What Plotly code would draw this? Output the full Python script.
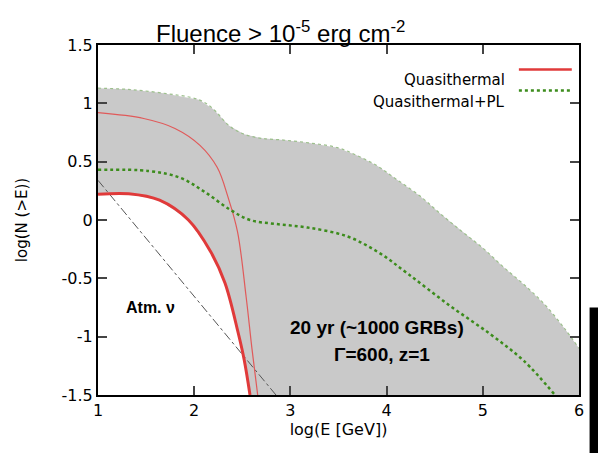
import plotly.graph_objects as go

# Upper edge of the shaded band (Quasithermal+PL, optimistic)
top_x = [1.0, 1.3, 1.65, 2.05, 2.2, 2.36, 2.52, 2.7, 2.93, 3.2, 3.49, 3.7, 3.91, 4.1, 4.34, 4.55, 4.77, 5.0, 5.21, 5.45, 5.65, 5.85, 6.0]
top_y = [1.13, 1.12, 1.09, 1.03, 0.95, 0.81, 0.735, 0.70, 0.685, 0.66, 0.62, 0.55, 0.46, 0.35, 0.21, 0.06, -0.09, -0.24, -0.40, -0.57, -0.73, -0.93, -1.10]

# Quasithermal+PL (green dotted)
pl_x = [1.0, 1.53, 1.86, 2.11, 2.37, 2.58, 2.86, 3.18, 3.59, 3.92, 4.22, 4.65, 5.08, 5.43, 5.75]
pl_y = [0.43, 0.42, 0.36, 0.24, 0.09, 0.0, -0.035, -0.065, -0.14, -0.28, -0.46, -0.73, -0.98, -1.21, -1.50]

# Quasithermal (thick red, lower)
qt_x = [1.0, 1.32, 1.64, 1.94, 2.17, 2.32, 2.455, 2.52, 2.58]
qt_y = [0.22, 0.225, 0.17, 0.0, -0.27, -0.54, -0.96, -1.2, -1.50]

# Quasithermal (thin red, upper)
qt2_x = [1.0, 1.475, 1.8, 2.06, 2.24, 2.35, 2.45, 2.54, 2.6, 2.66]
qt2_y = [0.92, 0.87, 0.785, 0.64, 0.45, 0.2, -0.1, -0.66, -1.1, -1.50]

# Atmospheric neutrinos (dash-dot)
atm_x = [1.0, 2.85]
atm_y = [0.34, -1.50]

x_ticks = [1, 2, 3, 4, 5, 6]
y_ticks = [-1.5, -1, -0.5, 0, 0.5, 1, 1.5]
y_ticklabels = ["-1.5", "-1", "-0.5", "0", "0.5", "1", "1.5"]

FONT = "DejaVu Sans"

fig = go.Figure()

# shaded band: top edge, down to bottom, back along lower red curve
band_x = top_x + [top_x[-1], qt_x[-1]] + qt_x[::-1]
band_y = top_y + [-1.5, -1.5] + qt_y[::-1]
fig.add_trace(go.Scatter(x=band_x, y=band_y, fill="toself", fillcolor="#c9c9c9",
                         line=dict(width=0), mode="lines", hoverinfo="skip", showlegend=False))

fig.add_trace(go.Scatter(x=top_x, y=top_y, mode="lines", line=dict(color="#9cbf8c", width=1.2, dash="dot", shape="spline"), showlegend=False))
fig.add_trace(go.Scatter(x=atm_x, y=atm_y, mode="lines", line=dict(color="#555555", width=1, dash="dashdot"), showlegend=False))
fig.add_trace(go.Scatter(x=qt2_x, y=qt2_y, mode="lines", line=dict(color="#e05a5a", width=1.2, shape="spline"), showlegend=False))
fig.add_trace(go.Scatter(x=qt_x, y=qt_y, mode="lines", line=dict(color="#e03a3a", width=3, shape="spline"), showlegend=False))
fig.add_trace(go.Scatter(x=pl_x, y=pl_y, mode="lines", line=dict(color="#3c8c1c", width=2.5, dash="dot", shape="spline"), showlegend=False))

annotations = [
    dict(x=1.55, y=-0.75, xref="x", yref="y", text="<b>Atm. ν</b>", showarrow=False,
         font=dict(family="Liberation Sans", size=16, color="black")),
    dict(x=3.9, y=-0.92, xref="x", yref="y", text="<b>20 yr (~1000 GRBs)</b>", showarrow=False,
         font=dict(family="Liberation Sans", size=19, color="black")),
    dict(x=3.95, y=-1.15, xref="x", yref="y", text="<b>Γ=600, z=1</b>", showarrow=False,
         font=dict(family="Liberation Sans", size=19, color="black")),
    dict(x=0.85, y=0.93, xref="paper", yref="paper", xanchor="right", text="Quasithermal", showarrow=False,
         font=dict(family=FONT, size=15, color="black")),
    dict(x=0.85, y=0.87, xref="paper", yref="paper", xanchor="right", text="Quasithermal+PL", showarrow=False,
         font=dict(family=FONT, size=15, color="black")),
    dict(x=0.38, y=1.085, xref="paper", yref="paper", text="Fluence > 10<sup>-5</sup> erg cm<sup>-2</sup>", showarrow=False,
         font=dict(family="Liberation Sans", size=24, color="black")),
    dict(x=0.38, y=-0.245, xref="paper", yref="paper", text="KM, Kashiyama", showarrow=False,
         font=dict(family="Liberation Sans", size=15, color="black")),
]

shapes = [
    dict(type="line", xref="paper", yref="paper", x0=0.875, x1=0.985, y0=0.93, y1=0.93,
         line=dict(color="#e03a3a", width=2.5)),
    dict(type="line", xref="paper", yref="paper", x0=0.875, x1=0.985, y0=0.87, y1=0.87,
         line=dict(color="#3c8c1c", width=2.5, dash="dot")),
    dict(type="rect", xref="paper", yref="paper", x0=1.022, x1=1.2, y0=-0.2, y1=0.25,
         fillcolor="black", line=dict(width=0), layer="above"),
]

fig.update_layout(
    width=598, height=445,
    margin=dict(l=90, r=27, t=37, b=58),
    paper_bgcolor="white", plot_bgcolor="white",
    showlegend=False,
    annotations=annotations, shapes=shapes,
    font=dict(family=FONT, size=15, color="black"),
)
fig.update_xaxes(range=[1, 6], tickvals=x_ticks, ticks="inside", ticklen=9, tickwidth=1.5,
                 showline=True, linecolor="black", linewidth=2, mirror="allticks",
                 showgrid=False, zeroline=False,
                 title=dict(text="log(E [GeV])", font=dict(family=FONT, size=16), standoff=4),
                 tickfont=dict(family=FONT, size=16))
fig.update_yaxes(range=[-1.5, 1.5], tickvals=y_ticks, ticktext=y_ticklabels, ticks="inside", ticklen=9, tickwidth=1.5,
                 showline=True, linecolor="black", linewidth=2, mirror="allticks",
                 showgrid=False, zeroline=False,
                 title=dict(text="log(N (>E))", font=dict(family=FONT, size=15), standoff=30),
                 tickfont=dict(family=FONT, size=16))

fig.write_html("out.html")
